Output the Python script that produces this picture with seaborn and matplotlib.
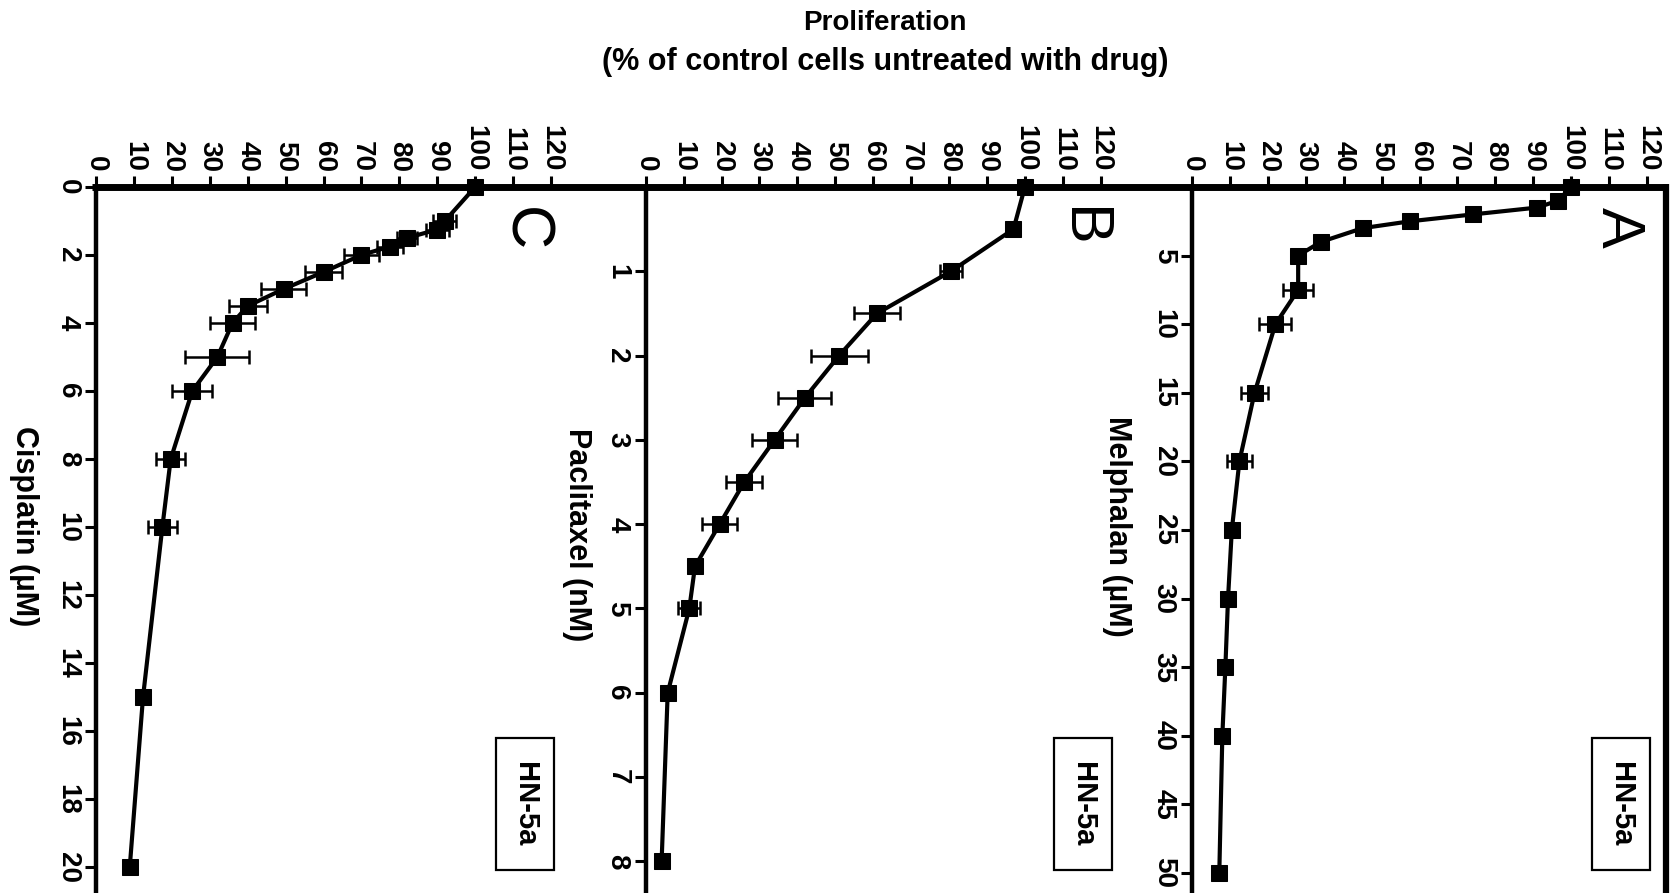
import matplotlib
matplotlib.use("Agg")
import matplotlib.pyplot as plt
import seaborn as sns
from matplotlib.lines import Line2D
from matplotlib.patches import Rectangle

# Panel A: Melphalan (µM)
melphalan_conc = [0, 1, 1.5, 2, 2.5, 3, 4, 5, 7.5, 10, 15, 20, 25, 30, 35, 40, 50]
melphalan_prolif = [100, 96.5, 91, 74, 57.5, 45, 34, 28, 28, 22, 16.5, 12.5, 10.5, 9.5, 8.8, 8, 7.2]
melphalan_err = [0.5, 1, 1, 1, 1, 1, 1, 1, 4, 4.2, 3.5, 3.3, 1.5, 1.5, 1, 1, 1]

# Panel B: Paclitaxel (nM)
paclitaxel_conc = [0, 0.5, 1, 1.5, 2, 2.5, 3, 3.5, 4, 4.5, 5, 6, 8]
paclitaxel_prolif = [100, 97, 80.5, 61, 51, 42, 34, 26, 19.5, 13, 11.5, 5.8, 4.2]
paclitaxel_err = [0.5, 0.5, 3, 6, 7.5, 7, 6, 4.7, 4.7, 1, 2.9, 0.5, 0.5]

# Panel C: Cisplatin (µM)
cisplatin_conc = [0, 1, 1.25, 1.5, 1.75, 2, 2.5, 3, 3.5, 4, 5, 6, 8, 10, 15, 20]
cisplatin_prolif = [100, 92, 90, 82, 77.5, 70, 60, 49.5, 40, 36, 32, 25.4, 19.7, 17.5, 12.4, 8.9]
cisplatin_err = [0.5, 3, 3, 2.6, 3.5, 4.6, 5, 6, 5, 5.9, 8.4, 5.3, 3.8, 3.8, 1, 1]

prolif_ticks = list(range(0, 121, 10))

sns.set_style("white")
plt.rcParams["font.family"] = ["Liberation Sans", "DejaVu Sans"]
plt.rcParams["text.color"] = "black"
plt.rcParams["axes.labelcolor"] = "black"

W, H = 1676, 893
fig = plt.figure(figsize=(W / 100, H / 100), dpi=100)
fig.patch.set_facecolor("white")

AX_TOP = 187
AX_W = 455

panels = [
    dict(left=96, conc=cisplatin_conc, prolif=cisplatin_prolif, err=cisplatin_err,
         ymax=20.76, yticks=list(range(0, 21, 2)), label="Cisplatin (µM)",
         label_xy=(-0.159, 0.52), letter="C", letter_xy=(0.941, 0.941),
         box_x=0.879),
    dict(left=645.7, conc=paclitaxel_conc, prolif=paclitaxel_prolif, err=paclitaxel_err,
         ymax=8.375, yticks=list(range(1, 9)), label="Paclitaxel (nM)",
         label_xy=(-0.151, 0.507), letter="B", letter_xy=(0.957, 0.9435),
         box_x=0.897),
    dict(left=1192, conc=melphalan_conc, prolif=melphalan_prolif, err=melphalan_err,
         ymax=51.46, yticks=list(range(5, 51, 5)), label="Melphalan (µM)",
         label_xy=(-0.165, 0.52), letter="A", letter_xy=(0.935, 0.9435),
         box_x=0.879),
]

for p in panels:
    ax = fig.add_axes([p["left"] / W, 0, AX_W / W, (H - AX_TOP) / H])
    ax.set_facecolor("none")

    ax.errorbar(p["prolif"], p["conc"], xerr=p["err"], fmt="none", ecolor="black",
                elinewidth=1.8, capsize=5, capthick=1.8, clip_on=False, zorder=2)
    sns.lineplot(x=p["prolif"], y=p["conc"], sort=False, estimator=None, ax=ax,
                 color="black", linewidth=3.0, marker="s", markersize=11,
                 markeredgecolor="black", markerfacecolor="black", clip_on=False,
                 zorder=3)

    ax.set_xlim(0, 120)
    ax.set_ylim(p["ymax"], 0)
    ax.xaxis.tick_top()
    ax.set_xticks(prolif_ticks)
    ax.set_yticks(p["yticks"])
    ax.set_xlabel("")
    ax.set_ylabel(p["label"], rotation=270, fontsize=22, fontweight="bold",
                  va="center", ha="center", color="black")
    ax.yaxis.set_label_coords(*p["label_xy"])

    ax.tick_params(axis="x", which="both", top=True, bottom=False, direction="out",
                   length=8, width=2.2, color="black", labelsize=20, pad=3,
                   labelrotation=270, labelcolor="black")
    ax.tick_params(axis="y", which="both", left=True, direction="out",
                   length=8, width=2.2, color="black", labelsize=20, pad=3,
                   labelrotation=270, labelcolor="black")
    for lbl in ax.get_xticklabels():
        lbl.set_fontweight("bold")
    for lbl in ax.get_yticklabels():
        lbl.set_fontweight("bold")
        lbl.set_va("center")

    for side in ("top", "right", "bottom"):
        ax.spines[side].set_visible(False)
    ax.spines["left"].set_color("black")
    ax.spines["left"].set_linewidth(3.2)

    ax.text(*p["letter_xy"], p["letter"], transform=ax.transAxes, rotation=270,
            ha="center", va="center", fontsize=44, color="black")

    bw, bh, by = 58 / AX_W, 132 / (H - AX_TOP), 0.032
    ax.add_patch(Rectangle((p["box_x"], by), bw, bh, transform=ax.transAxes,
                           fill=False, edgecolor="black", linewidth=1.6,
                           clip_on=False))
    ax.text(p["box_x"] + bw / 2, by + bh / 2, "HN-5a", transform=ax.transAxes,
            rotation=270, ha="center", va="center", fontsize=21,
            fontweight="bold", color="black")

# shared proliferation axis line across all panels and right frame edge
fig.add_artist(Line2D([92 / W, 1668 / W], [1 - AX_TOP / H] * 2,
                      transform=fig.transFigure, color="black", linewidth=5,
                      solid_capstyle="butt"))
fig.add_artist(Line2D([1666 / W] * 2, [1 - 184 / H, 0],
                      transform=fig.transFigure, color="black", linewidth=4.5,
                      solid_capstyle="butt"))

fig.text(885 / W, 1 - 23.5 / H, "Proliferation", ha="center", va="center",
         fontsize=20, fontweight="bold", color="black")
fig.text(885 / W, 1 - 62 / H, "(% of control cells untreated with drug)",
         ha="center", va="center", fontsize=22, fontweight="bold", color="black")

fig.savefig("out.png", dpi=100, facecolor="white")
